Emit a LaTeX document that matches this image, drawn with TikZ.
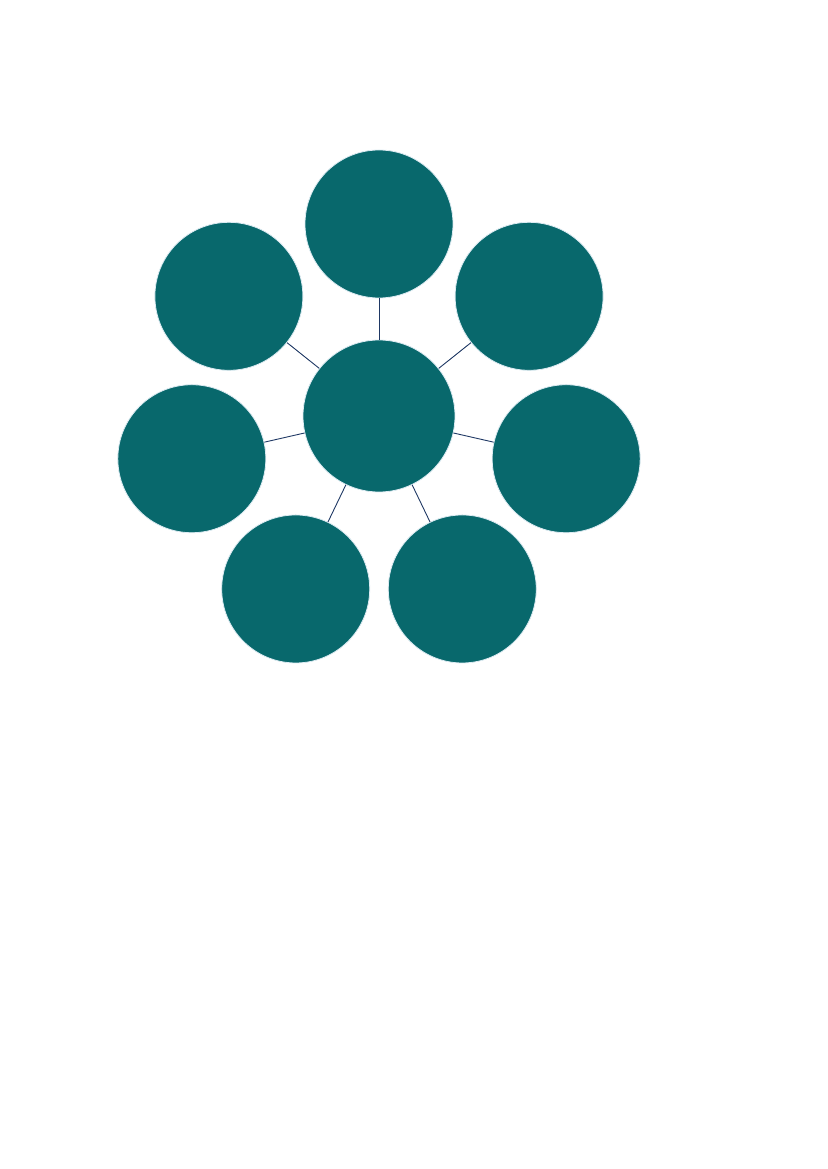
\documentclass[tikz,border=0pt]{standalone}
\definecolor{petrol}{HTML}{08686C}
\definecolor{rim}{HTML}{DCEBF2}
\definecolor{spoke}{HTML}{1F3864}
\tikzset{
  bubble/.style={circle,fill=petrol,draw=rim,line width=0.8pt,minimum size=148pt,inner sep=0pt},
  hub/.style={bubble,minimum size=152pt},
}
\begin{document}
\begin{tikzpicture}[x=1pt,y=1pt]
      \useasboundingbox (-379,-753) rectangle (448,416);
      \node[hub] (c) at (0,0) {};
      \draw
        (90.0:192) node[bubble] (s0){}
        (141.43:192) node[bubble] (s1){}
        (192.86:192) node[bubble] (s2){}
        (244.29:192) node[bubble] (s3){}
        (295.71:192) node[bubble] (s4){}
        (347.14:192) node[bubble] (s5){}
        (38.57:192) node[bubble] (s6){};
      \begin{scope}[-,spoke,line width=0.9pt]
        \draw (c) to (s0);
        \draw (c) to (s1);
        \draw (c) to (s2);
        \draw (c) to (s3);
        \draw (c) to (s4);
        \draw (c) to (s5);
        \draw (c) to (s6);
      \end{scope}
    \end{tikzpicture}
\end{document}
